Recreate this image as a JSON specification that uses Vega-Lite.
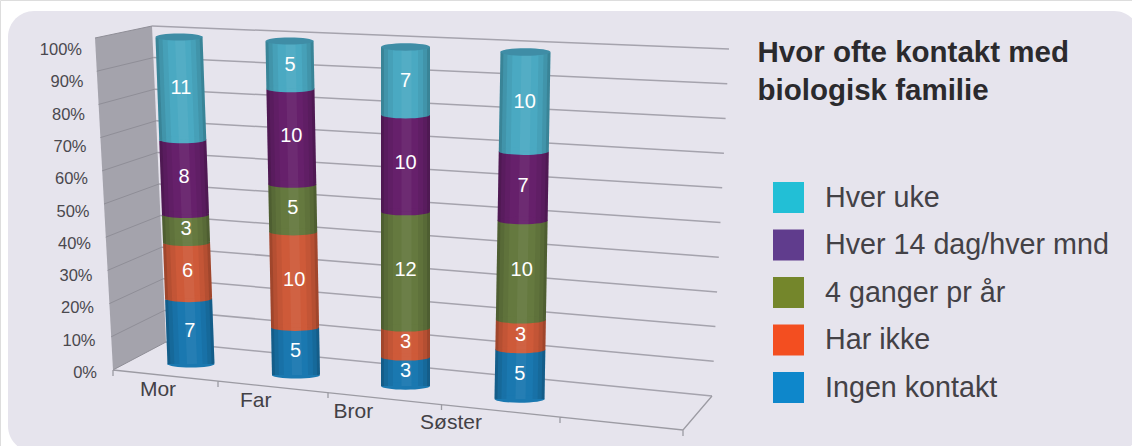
{
"$schema":"https://vega.github.io/schema/vega-lite/v6.json",
"width":1132,"height":446,"padding":0,"autosize":"none","background":"white",
"title":{"text":["Hvor ofte kontakt med","biologisk familie"],"anchor":"start","frame":"group","orient":"top","offset":0,"dx":757.5,"dy":129,"baseline":"alphabetic","align":"left","font":"Liberation Sans","fontSize":29.5,"fontWeight":"bold","lineHeight":38,"color":"#2b2a2d"},
"datasets":{
"counts":[
{"category":"Mor","segment":"Ingen kontakt","order":1,"count":7},
{"category":"Mor","segment":"Har ikke","order":2,"count":6},
{"category":"Mor","segment":"4 ganger pr år","order":3,"count":3},
{"category":"Mor","segment":"Hver 14 dag/hver mnd","order":4,"count":8},
{"category":"Mor","segment":"Hver uke","order":5,"count":11},
{"category":"Far","segment":"Ingen kontakt","order":1,"count":5},
{"category":"Far","segment":"Har ikke","order":2,"count":10},
{"category":"Far","segment":"4 ganger pr år","order":3,"count":5},
{"category":"Far","segment":"Hver 14 dag/hver mnd","order":4,"count":10},
{"category":"Far","segment":"Hver uke","order":5,"count":5},
{"category":"Bror","segment":"Ingen kontakt","order":1,"count":3},
{"category":"Bror","segment":"Har ikke","order":2,"count":3},
{"category":"Bror","segment":"4 ganger pr år","order":3,"count":12},
{"category":"Bror","segment":"Hver 14 dag/hver mnd","order":4,"count":10},
{"category":"Bror","segment":"Hver uke","order":5,"count":7},
{"category":"Søster","segment":"Ingen kontakt","order":1,"count":5},
{"category":"Søster","segment":"Har ikke","order":2,"count":3},
{"category":"Søster","segment":"4 ganger pr år","order":3,"count":10},
{"category":"Søster","segment":"Hver 14 dag/hver mnd","order":4,"count":7},
{"category":"Søster","segment":"Hver uke","order":5,"count":10}
],
"ticks":[{"tick":0},{"tick":10},{"tick":20},{"tick":30},{"tick":40},{"tick":50},{"tick":60},{"tick":70},{"tick":80},{"tick":90},{"tick":100}],
"categories":[{"category":"Mor"},{"category":"Far"},{"category":"Bror"},{"category":"Søster"}],
"legendRows":[{"segment":"Hver uke"},{"segment":"Hver 14 dag/hver mnd"},{"segment":"4 ganger pr år"},{"segment":"Har ikke"},{"segment":"Ingen kontakt"}]
},
"resolve":{"scale":{"x":"independent","y":"independent","fill":"independent","stroke":"independent"}},
"layer":[
{"data":{"values":[{}]},"mark":{"type":"rect","cornerRadius":26,"fill":"#e6e4ed"},"encoding":{"x":{"value":8},"x2":{"value":1140},"y":{"value":11},"y2":{"value":452}}},
{"data":{"values":[{}]},"mark":{"type":"point","shape":"M95,38L152,26L166,342L113,370Z","size":4,"filled":true,"fill":"#a4a3ac","opacity":1,"strokeWidth":0},"encoding":{"x":{"value":0},"y":{"value":0}}},
{"data":{"name":"ticks"},"transform":[{"calculate":"-3900-1.214*datum.tick","as":"farX"},{"calculate":"-17.09+1.098*datum.tick","as":"farY"}],
"mark":{"type":"rule","stroke":"#a5a3ad","strokeWidth":1.5},
"encoding":{"x":{"field":"tick","type":"quantitative","scale":{"domain":[0,100],"range":[166,152],"nice":false,"zero":false},"axis":null},"x2":{"field":"farX"},"y":{"field":"tick","type":"quantitative","scale":{"domain":[0,100],"range":[342,26],"nice":false,"zero":false},"axis":null},"y2":{"field":"farY"}}},
{"data":{"name":"ticks"},"transform":[{"calculate":"378.6+1.286*datum.tick","as":"nearX"},{"calculate":"-8.86+1.0506*datum.tick","as":"nearY"}],
"mark":{"type":"rule","stroke":"#8f8e97","strokeWidth":1},
"encoding":{"x":{"field":"tick","type":"quantitative","scale":{"domain":[0,100],"range":[166,152],"nice":false,"zero":false},"axis":null},"x2":{"field":"nearX"},"y":{"field":"tick","type":"quantitative","scale":{"domain":[0,100],"range":[342,26],"nice":false,"zero":false},"axis":null},"y2":{"field":"nearY"}}},
{"data":{"values":[{}]},"mark":{"type":"point","shape":"M113,370L683,430L712,396M113,370V376M218,381V387M328,392V398M441.5,404V410M560,417V423M683,430V436","size":4,"filled":false,"stroke":"#9c9ba3","strokeWidth":1.3,"opacity":1},"encoding":{"x":{"value":0},"y":{"value":0}}},
{"data":{"name":"ticks"},"transform":[{"calculate":"datum.tick+'%'","as":"label"}],
"mark":{"type":"text","align":"right","baseline":"middle","font":"Liberation Sans","fontSize":16.5,"fill":"#4a484e"},
"encoding":{"text":{"field":"label"},"x":{"field":"tick","type":"quantitative","scale":{"domain":[0,100],"range":[97,82],"nice":false,"zero":false},"axis":null},"y":{"field":"tick","type":"quantitative","scale":{"domain":[0,100],"range":[373,50],"nice":false,"zero":false},"axis":null}}},
{"data":{"name":"categories"},
"mark":{"type":"text","align":"center","baseline":"middle","font":"Liberation Sans","fontSize":21,"fill":"#434146"},
"encoding":{"text":{"field":"category"},"x":{"field":"category","type":"nominal","scale":{"type":"point","domain":["Mor","Far","Bror","Søster"],"range":[158,451],"padding":0},"axis":null},"y":{"field":"category","type":"nominal","scale":{"type":"point","domain":["Mor","Far","Bror","Søster"],"range":[390,423],"padding":0},"axis":null}}},

{"data":{"name":"counts"},"transform":[{"filter":"datum.category=='Mor'"},{"stack":"count","groupby":["category"],"offset":"normalize","sort":[{"field":"order","order":"ascending"}],"as":["p0","p1"]},{"calculate":"(datum.p0+datum.p1)/2","as":"pmid"}],
"encoding":{"x":{"field":"p0","type":"quantitative","scale":{"domain":[0,1],"range":[191,179],"nice":false,"zero":false},"axis":null},"y":{"field":"p0","type":"quantitative","scale":{"domain":[0,1],"range":[364,37],"nice":false,"zero":false},"axis":null}},
"layer":[
{"mark":{"type":"rule","strokeWidth":47},"encoding":{"x2":{"field":"p1"},"y2":{"field":"p1"},"stroke":{"field":"segment","type":"nominal","legend":null,"scale":{"domain":["Hver uke","Hver 14 dag/hver mnd","4 ganger pr år","Har ikke","Ingen kontakt"],"range":["#4aa9c2","#66206b","#65793f","#ce5a39","#1a78b0"]}}}},
{"mark":{"type":"point","shape":"M-1,0A1,.15,0,1,1,1,0A1,.15,0,1,1,-1,0Z","size":2209,"filled":true,"opacity":1,"strokeWidth":0},"encoding":{"fill":{"field":"segment","type":"nominal","legend":null,"scale":{"domain":["Hver uke","Hver 14 dag/hver mnd","4 ganger pr år","Har ikke","Ingen kontakt"],"range":["#4aa9c2","#66206b","#65793f","#ce5a39","#1a78b0"]}}}},
{"mark":{"type":"rule","strokeWidth":3,"stroke":"#000","strokeOpacity":0.22,"xOffset":-22,"x2Offset":-22},"encoding":{"x2":{"field":"p1"},"y2":{"field":"p1"}}},
{"mark":{"type":"rule","strokeWidth":4,"stroke":"#000","strokeOpacity":0.12,"xOffset":-18.5,"x2Offset":-18.5},"encoding":{"x2":{"field":"p1"},"y2":{"field":"p1"}}},
{"mark":{"type":"rule","strokeWidth":5,"stroke":"#000","strokeOpacity":0.05,"xOffset":-14,"x2Offset":-14},"encoding":{"x2":{"field":"p1"},"y2":{"field":"p1"}}},
{"mark":{"type":"rule","strokeWidth":10,"stroke":"#fff","strokeOpacity":0.05,"xOffset":1,"x2Offset":1},"encoding":{"x2":{"field":"p1"},"y2":{"field":"p1"}}},
{"mark":{"type":"rule","strokeWidth":5,"stroke":"#000","strokeOpacity":0.05,"xOffset":14,"x2Offset":14},"encoding":{"x2":{"field":"p1"},"y2":{"field":"p1"}}},
{"mark":{"type":"rule","strokeWidth":4,"stroke":"#000","strokeOpacity":0.12,"xOffset":18.5,"x2Offset":18.5},"encoding":{"x2":{"field":"p1"},"y2":{"field":"p1"}}},
{"mark":{"type":"rule","strokeWidth":3,"stroke":"#000","strokeOpacity":0.22,"xOffset":22,"x2Offset":22},"encoding":{"x2":{"field":"p1"},"y2":{"field":"p1"}}},
{"transform":[{"filter":"datum.order==5"}],"mark":{"type":"point","shape":"M-1,0A1,.15,0,1,1,1,0A1,.15,0,1,1,-1,0Z","size":2209,"filled":true,"fill":"#3f8da6","opacity":1,"strokeWidth":0},"encoding":{"x":{"field":"p1","type":"quantitative","scale":{"domain":[0,1],"range":[191,179],"nice":false,"zero":false},"axis":null},"y":{"field":"p1","type":"quantitative","scale":{"domain":[0,1],"range":[364,37],"nice":false,"zero":false},"axis":null}}},
{"mark":{"type":"text","align":"center","baseline":"middle","font":"Liberation Sans","fontSize":20,"fill":"white"},"encoding":{"text":{"field":"count","type":"quantitative"},"x":{"field":"pmid","type":"quantitative","scale":{"domain":[0,1],"range":[189,177],"nice":false,"zero":false},"axis":null},"y":{"field":"pmid","type":"quantitative","scale":{"domain":[0,1],"range":[364,37],"nice":false,"zero":false},"axis":null}}}
]},

{"data":{"name":"counts"},"transform":[{"filter":"datum.category=='Far'"},{"stack":"count","groupby":["category"],"offset":"normalize","sort":[{"field":"order","order":"ascending"}],"as":["p0","p1"]},{"calculate":"(datum.p0+datum.p1)/2","as":"pmid"}],
"encoding":{"x":{"field":"p0","type":"quantitative","scale":{"domain":[0,1],"range":[296,289.5],"nice":false,"zero":false},"axis":null},"y":{"field":"p0","type":"quantitative","scale":{"domain":[0,1],"range":[375,41],"nice":false,"zero":false},"axis":null}},
"layer":[
{"mark":{"type":"rule","strokeWidth":48},"encoding":{"x2":{"field":"p1"},"y2":{"field":"p1"},"stroke":{"field":"segment","type":"nominal","legend":null,"scale":{"domain":["Hver uke","Hver 14 dag/hver mnd","4 ganger pr år","Har ikke","Ingen kontakt"],"range":["#4aa9c2","#66206b","#65793f","#ce5a39","#1a78b0"]}}}},
{"mark":{"type":"point","shape":"M-1,0A1,.15,0,1,1,1,0A1,.15,0,1,1,-1,0Z","size":2304,"filled":true,"opacity":1,"strokeWidth":0},"encoding":{"fill":{"field":"segment","type":"nominal","legend":null,"scale":{"domain":["Hver uke","Hver 14 dag/hver mnd","4 ganger pr år","Har ikke","Ingen kontakt"],"range":["#4aa9c2","#66206b","#65793f","#ce5a39","#1a78b0"]}}}},
{"mark":{"type":"rule","strokeWidth":3,"stroke":"#000","strokeOpacity":0.22,"xOffset":-22.5,"x2Offset":-22.5},"encoding":{"x2":{"field":"p1"},"y2":{"field":"p1"}}},
{"mark":{"type":"rule","strokeWidth":4,"stroke":"#000","strokeOpacity":0.12,"xOffset":-19,"x2Offset":-19},"encoding":{"x2":{"field":"p1"},"y2":{"field":"p1"}}},
{"mark":{"type":"rule","strokeWidth":5,"stroke":"#000","strokeOpacity":0.05,"xOffset":-14.5,"x2Offset":-14.5},"encoding":{"x2":{"field":"p1"},"y2":{"field":"p1"}}},
{"mark":{"type":"rule","strokeWidth":10,"stroke":"#fff","strokeOpacity":0.05,"xOffset":1,"x2Offset":1},"encoding":{"x2":{"field":"p1"},"y2":{"field":"p1"}}},
{"mark":{"type":"rule","strokeWidth":5,"stroke":"#000","strokeOpacity":0.05,"xOffset":14.5,"x2Offset":14.5},"encoding":{"x2":{"field":"p1"},"y2":{"field":"p1"}}},
{"mark":{"type":"rule","strokeWidth":4,"stroke":"#000","strokeOpacity":0.12,"xOffset":19,"x2Offset":19},"encoding":{"x2":{"field":"p1"},"y2":{"field":"p1"}}},
{"mark":{"type":"rule","strokeWidth":3,"stroke":"#000","strokeOpacity":0.22,"xOffset":22.5,"x2Offset":22.5},"encoding":{"x2":{"field":"p1"},"y2":{"field":"p1"}}},
{"transform":[{"filter":"datum.order==5"}],"mark":{"type":"point","shape":"M-1,0A1,.15,0,1,1,1,0A1,.15,0,1,1,-1,0Z","size":2304,"filled":true,"fill":"#3f8da6","opacity":1,"strokeWidth":0},"encoding":{"x":{"field":"p1","type":"quantitative","scale":{"domain":[0,1],"range":[296,289.5],"nice":false,"zero":false},"axis":null},"y":{"field":"p1","type":"quantitative","scale":{"domain":[0,1],"range":[375,41],"nice":false,"zero":false},"axis":null}}},
{"mark":{"type":"text","align":"center","baseline":"middle","font":"Liberation Sans","fontSize":20,"fill":"white"},"encoding":{"text":{"field":"count","type":"quantitative"},"x":{"field":"pmid","type":"quantitative","scale":{"domain":[0,1],"range":[295,289],"nice":false,"zero":false},"axis":null},"y":{"field":"pmid","type":"quantitative","scale":{"domain":[0,1],"range":[375,41],"nice":false,"zero":false},"axis":null}}}
]},

{"data":{"name":"counts"},"transform":[{"filter":"datum.category=='Bror'"},{"stack":"count","groupby":["category"],"offset":"normalize","sort":[{"field":"order","order":"ascending"}],"as":["p0","p1"]},{"calculate":"(datum.p0+datum.p1)/2","as":"pmid"}],
"encoding":{"x":{"field":"p0","type":"quantitative","scale":{"domain":[0,1],"range":[405.5,405.5],"nice":false,"zero":false},"axis":null},"y":{"field":"p0","type":"quantitative","scale":{"domain":[0,1],"range":[386,47],"nice":false,"zero":false},"axis":null}},
"layer":[
{"mark":{"type":"rule","strokeWidth":49},"encoding":{"x2":{"field":"p1"},"y2":{"field":"p1"},"stroke":{"field":"segment","type":"nominal","legend":null,"scale":{"domain":["Hver uke","Hver 14 dag/hver mnd","4 ganger pr år","Har ikke","Ingen kontakt"],"range":["#4aa9c2","#66206b","#65793f","#ce5a39","#1a78b0"]}}}},
{"mark":{"type":"point","shape":"M-1,0A1,.15,0,1,1,1,0A1,.15,0,1,1,-1,0Z","size":2401,"filled":true,"opacity":1,"strokeWidth":0},"encoding":{"fill":{"field":"segment","type":"nominal","legend":null,"scale":{"domain":["Hver uke","Hver 14 dag/hver mnd","4 ganger pr år","Har ikke","Ingen kontakt"],"range":["#4aa9c2","#66206b","#65793f","#ce5a39","#1a78b0"]}}}},
{"mark":{"type":"rule","strokeWidth":3,"stroke":"#000","strokeOpacity":0.22,"xOffset":-23,"x2Offset":-23},"encoding":{"x2":{"field":"p1"},"y2":{"field":"p1"}}},
{"mark":{"type":"rule","strokeWidth":4,"stroke":"#000","strokeOpacity":0.12,"xOffset":-19.5,"x2Offset":-19.5},"encoding":{"x2":{"field":"p1"},"y2":{"field":"p1"}}},
{"mark":{"type":"rule","strokeWidth":5,"stroke":"#000","strokeOpacity":0.05,"xOffset":-15,"x2Offset":-15},"encoding":{"x2":{"field":"p1"},"y2":{"field":"p1"}}},
{"mark":{"type":"rule","strokeWidth":10,"stroke":"#fff","strokeOpacity":0.05,"xOffset":1,"x2Offset":1},"encoding":{"x2":{"field":"p1"},"y2":{"field":"p1"}}},
{"mark":{"type":"rule","strokeWidth":5,"stroke":"#000","strokeOpacity":0.05,"xOffset":15,"x2Offset":15},"encoding":{"x2":{"field":"p1"},"y2":{"field":"p1"}}},
{"mark":{"type":"rule","strokeWidth":4,"stroke":"#000","strokeOpacity":0.12,"xOffset":19.5,"x2Offset":19.5},"encoding":{"x2":{"field":"p1"},"y2":{"field":"p1"}}},
{"mark":{"type":"rule","strokeWidth":3,"stroke":"#000","strokeOpacity":0.22,"xOffset":23,"x2Offset":23},"encoding":{"x2":{"field":"p1"},"y2":{"field":"p1"}}},
{"transform":[{"filter":"datum.order==5"}],"mark":{"type":"point","shape":"M-1,0A1,.15,0,1,1,1,0A1,.15,0,1,1,-1,0Z","size":2401,"filled":true,"fill":"#3f8da6","opacity":1,"strokeWidth":0},"encoding":{"x":{"field":"p1","type":"quantitative","scale":{"domain":[0,1],"range":[405.5,405.5],"nice":false,"zero":false},"axis":null},"y":{"field":"p1","type":"quantitative","scale":{"domain":[0,1],"range":[386,47],"nice":false,"zero":false},"axis":null}}},
{"mark":{"type":"text","align":"center","baseline":"middle","font":"Liberation Sans","fontSize":20,"fill":"white"},"encoding":{"text":{"field":"count","type":"quantitative"},"x":{"field":"pmid","type":"quantitative","scale":{"domain":[0,1],"range":[405,404.5],"nice":false,"zero":false},"axis":null},"y":{"field":"pmid","type":"quantitative","scale":{"domain":[0,1],"range":[386,47],"nice":false,"zero":false},"axis":null}}}
]},

{"data":{"name":"counts"},"transform":[{"filter":"datum.category=='Søster'"},{"stack":"count","groupby":["category"],"offset":"normalize","sort":[{"field":"order","order":"ascending"}],"as":["p0","p1"]},{"calculate":"(datum.p0+datum.p1)/2","as":"pmid"}],
"encoding":{"x":{"field":"p0","type":"quantitative","scale":{"domain":[0,1],"range":[519.5,525.5],"nice":false,"zero":false},"axis":null},"y":{"field":"p0","type":"quantitative","scale":{"domain":[0,1],"range":[399,52],"nice":false,"zero":false},"axis":null}},
"layer":[
{"mark":{"type":"rule","strokeWidth":50},"encoding":{"x2":{"field":"p1"},"y2":{"field":"p1"},"stroke":{"field":"segment","type":"nominal","legend":null,"scale":{"domain":["Hver uke","Hver 14 dag/hver mnd","4 ganger pr år","Har ikke","Ingen kontakt"],"range":["#4aa9c2","#66206b","#65793f","#ce5a39","#1a78b0"]}}}},
{"mark":{"type":"point","shape":"M-1,0A1,.15,0,1,1,1,0A1,.15,0,1,1,-1,0Z","size":2500,"filled":true,"opacity":1,"strokeWidth":0},"encoding":{"fill":{"field":"segment","type":"nominal","legend":null,"scale":{"domain":["Hver uke","Hver 14 dag/hver mnd","4 ganger pr år","Har ikke","Ingen kontakt"],"range":["#4aa9c2","#66206b","#65793f","#ce5a39","#1a78b0"]}}}},
{"mark":{"type":"rule","strokeWidth":3,"stroke":"#000","strokeOpacity":0.22,"xOffset":-23.5,"x2Offset":-23.5},"encoding":{"x2":{"field":"p1"},"y2":{"field":"p1"}}},
{"mark":{"type":"rule","strokeWidth":4,"stroke":"#000","strokeOpacity":0.12,"xOffset":-20,"x2Offset":-20},"encoding":{"x2":{"field":"p1"},"y2":{"field":"p1"}}},
{"mark":{"type":"rule","strokeWidth":5,"stroke":"#000","strokeOpacity":0.05,"xOffset":-15.5,"x2Offset":-15.5},"encoding":{"x2":{"field":"p1"},"y2":{"field":"p1"}}},
{"mark":{"type":"rule","strokeWidth":10,"stroke":"#fff","strokeOpacity":0.05,"xOffset":1,"x2Offset":1},"encoding":{"x2":{"field":"p1"},"y2":{"field":"p1"}}},
{"mark":{"type":"rule","strokeWidth":5,"stroke":"#000","strokeOpacity":0.05,"xOffset":15.5,"x2Offset":15.5},"encoding":{"x2":{"field":"p1"},"y2":{"field":"p1"}}},
{"mark":{"type":"rule","strokeWidth":4,"stroke":"#000","strokeOpacity":0.12,"xOffset":20,"x2Offset":20},"encoding":{"x2":{"field":"p1"},"y2":{"field":"p1"}}},
{"mark":{"type":"rule","strokeWidth":3,"stroke":"#000","strokeOpacity":0.22,"xOffset":23.5,"x2Offset":23.5},"encoding":{"x2":{"field":"p1"},"y2":{"field":"p1"}}},
{"transform":[{"filter":"datum.order==5"}],"mark":{"type":"point","shape":"M-1,0A1,.15,0,1,1,1,0A1,.15,0,1,1,-1,0Z","size":2500,"filled":true,"fill":"#3f8da6","opacity":1,"strokeWidth":0},"encoding":{"x":{"field":"p1","type":"quantitative","scale":{"domain":[0,1],"range":[519.5,525.5],"nice":false,"zero":false},"axis":null},"y":{"field":"p1","type":"quantitative","scale":{"domain":[0,1],"range":[399,52],"nice":false,"zero":false},"axis":null}}},
{"mark":{"type":"text","align":"center","baseline":"middle","font":"Liberation Sans","fontSize":20,"fill":"white"},"encoding":{"text":{"field":"count","type":"quantitative"},"x":{"field":"pmid","type":"quantitative","scale":{"domain":[0,1],"range":[518,524],"nice":false,"zero":false},"axis":null},"y":{"field":"pmid","type":"quantitative","scale":{"domain":[0,1],"range":[399,52],"nice":false,"zero":false},"axis":null}}}
]},

{"data":{"name":"legendRows"},"mark":{"type":"point","filled":true,"size":0,"opacity":1,"shape":"square"},
"encoding":{"x":{"value":773},"y":{"value":182},
"fill":{"field":"segment","type":"nominal","scale":{"domain":["Hver uke","Hver 14 dag/hver mnd","4 ganger pr år","Har ikke","Ingen kontakt"],"range":["#22bfd6","#603c8d","#74862b","#f34e20","#0e87cb"]},
"legend":{"title":null,"orient":"none","legendX":773,"legendY":182,"symbolType":"square","symbolSize":961,"symbolStrokeWidth":0,"symbolOpacity":1,"rowPadding":16.5,"labelOffset":21,"labelFont":"Liberation Sans","labelFontSize":28.7,"labelColor":"#434146","labelLimit":400,"padding":0,"values":["Hver uke","Hver 14 dag/hver mnd","4 ganger pr år","Har ikke","Ingen kontakt"]}}}}
]
}
